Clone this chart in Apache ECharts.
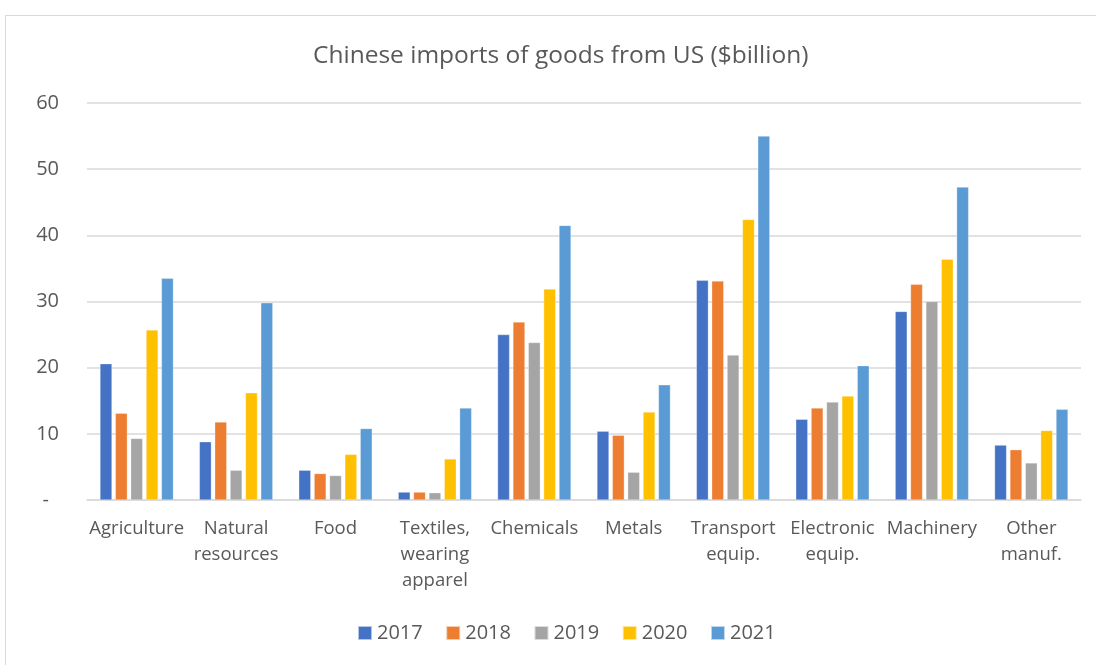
<!DOCTYPE html>
<html>
<head>
<meta charset="utf-8">
<script src="https://cdn.jsdelivr.net/npm/echarts@6/dist/echarts.min.js"></script>
<style>
  html, body { margin: 0; padding: 0; background: #fff; }
  #frame { position: absolute; left: 5px; top: 15px; width: 1200px; height: 800px; border: 1px solid #d9d9d9; box-sizing: border-box; }
  #chart { position: absolute; left: 0; top: 0; width: 1096px; height: 665px; }
</style>
</head>
<body>
<div id="frame"></div>
<div id="chart"></div>
<script>
// Sectors along the x axis
const categories = ['Agriculture', 'Natural\nresources', 'Food', 'Textiles,\nwearing\napparel', 'Chemicals',
  'Metals', 'Transport\nequip.', 'Electronic\nequip.', 'Machinery', 'Other\nmanuf.'];

// Imports by year, $billion
const years = ['2017', '2018', '2019', '2020', '2021'];
const v2017 = [20.6, 8.8, 4.5, 1.2, 25.0, 10.4, 33.2, 12.2, 28.5, 8.3];
const v2018 = [13.1, 11.8, 4.0, 1.2, 26.9, 9.8, 33.1, 13.9, 32.6, 7.6];
const v2019 = [9.3, 4.5, 3.7, 1.1, 23.8, 4.2, 21.9, 14.8, 30.0, 5.6];
const v2020 = [25.7, 16.2, 6.9, 6.2, 31.9, 13.3, 42.4, 15.7, 36.4, 10.5];
const v2021 = [33.5, 29.8, 10.8, 13.9, 41.5, 17.4, 55.0, 20.3, 47.3, 13.7];
const seriesValues = [v2017, v2018, v2019, v2020, v2021];
const colors = ['#4472C4', '#ED7D31', '#A5A5A5', '#FFC000', '#5B9BD5'];

const chart = echarts.init(document.getElementById('chart'), null, { renderer: 'canvas' });
const textColor = '#595959';
const font = 'Open Sans';

chart.setOption({
  animation: false,
  title: {
    text: 'Chinese imports of goods from US ($billion)',
    left: 308,
    top: 39,
    textStyle: { fontFamily: font, fontSize: 24.5, fontWeight: 'normal', color: textColor }
  },
  legend: {
    data: years,
    bottom: 17,
    left: 352,
    itemWidth: 14,
    itemHeight: 14,
    itemGap: 22.5,
    icon: 'rect',
    textStyle: { fontFamily: font, fontSize: 20, color: textColor }
  },
  grid: { left: 87, right: 15, top: 103, bottom: 165, containLabel: false },
  xAxis: {
    type: 'category',
    data: categories,
    axisLine: { lineStyle: { color: '#d9d9d9', width: 1.5 } },
    axisTick: { show: false },
    axisLabel: { fontFamily: font, fontSize: 18.5, color: textColor, lineHeight: 26, margin: 16, interval: 0 }
  },
  yAxis: {
    type: 'value',
    min: 0,
    max: 60,
    interval: 10,
    axisLine: { show: false },
    axisTick: { show: false },
    splitLine: { lineStyle: { color: '#d9d9d9', width: 1.5 } },
    axisLabel: {
      fontFamily: font, fontSize: 20, color: textColor, margin: 28,
      formatter: v => (v === 0 ? '{dash|-}' : String(v)),
      rich: { dash: { fontFamily: font, fontSize: 20, color: textColor, padding: [0, 10, 0, 0] } }
    }
  },
  series: years.map((y, i) => ({
    name: y,
    type: 'bar',
    data: seriesValues[i],
    barWidth: 12,
    barGap: '28%',
    itemStyle: { color: colors[i], borderColor: 'rgba(255,255,255,0.6)', borderWidth: 0.5 }
  }))
});
</script>
</body>
</html>
